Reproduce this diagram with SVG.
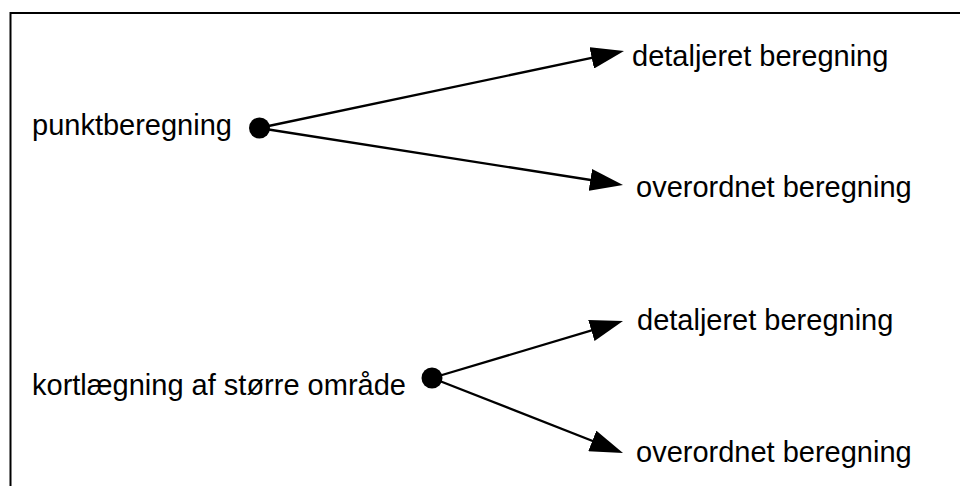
<svg xmlns="http://www.w3.org/2000/svg" width="960" height="486" viewBox="0 0 960 486">
  <style>
    .frame { fill: none; stroke: #000; stroke-width: 2; }
    .label { font-family: "Liberation Sans", Arial, sans-serif; font-size: 29px; fill: #000; }
    .dot { fill: #000; }
    .link { fill: none; stroke: #000; stroke-width: 2.3; marker-end: url(#head); }
  </style>
  <defs>
    <marker id="head" markerUnits="userSpaceOnUse" markerWidth="33" markerHeight="22" refX="23" refY="11" orient="auto">
      <path d="M0,0 L33,11 L0,22 Z" fill="#000"/>
    </marker>
  </defs>

  <rect width="960" height="486" fill="#fff"/>
  <!-- outer frame, running off the right and bottom edges -->
  <rect class="frame" x="10.5" y="13" width="970" height="490"/>

  <g id="connectors">
    <line class="link" x1="259" y1="128" x2="614.2" y2="53.1"/>
    <line class="link" x1="259" y1="128" x2="613.1" y2="183.5"/>
    <line class="link" x1="432" y1="378" x2="613.4" y2="323.9"/>
    <line class="link" x1="432" y1="378" x2="613.7" y2="449.3"/>
  </g>

  <g id="punktberegning">
    <text class="label" x="32" y="135">punktberegning</text>
    <circle class="dot" cx="259.5" cy="128" r="10.5"/>
  </g>
  <g id="detaljeret1">
    <text class="label" x="632" y="66">detaljeret beregning</text>
  </g>
  <g id="overordnet1">
    <text class="label" x="636" y="197">overordnet beregning</text>
  </g>

  <g id="kortlaegning">
    <text class="label" x="32" y="395">kortlægning af større område</text>
    <circle class="dot" cx="432" cy="378" r="10.5"/>
  </g>
  <g id="detaljeret2">
    <text class="label" x="637" y="330">detaljeret beregning</text>
  </g>
  <g id="overordnet2">
    <text class="label" x="636" y="462">overordnet beregning</text>
  </g>
</svg>
